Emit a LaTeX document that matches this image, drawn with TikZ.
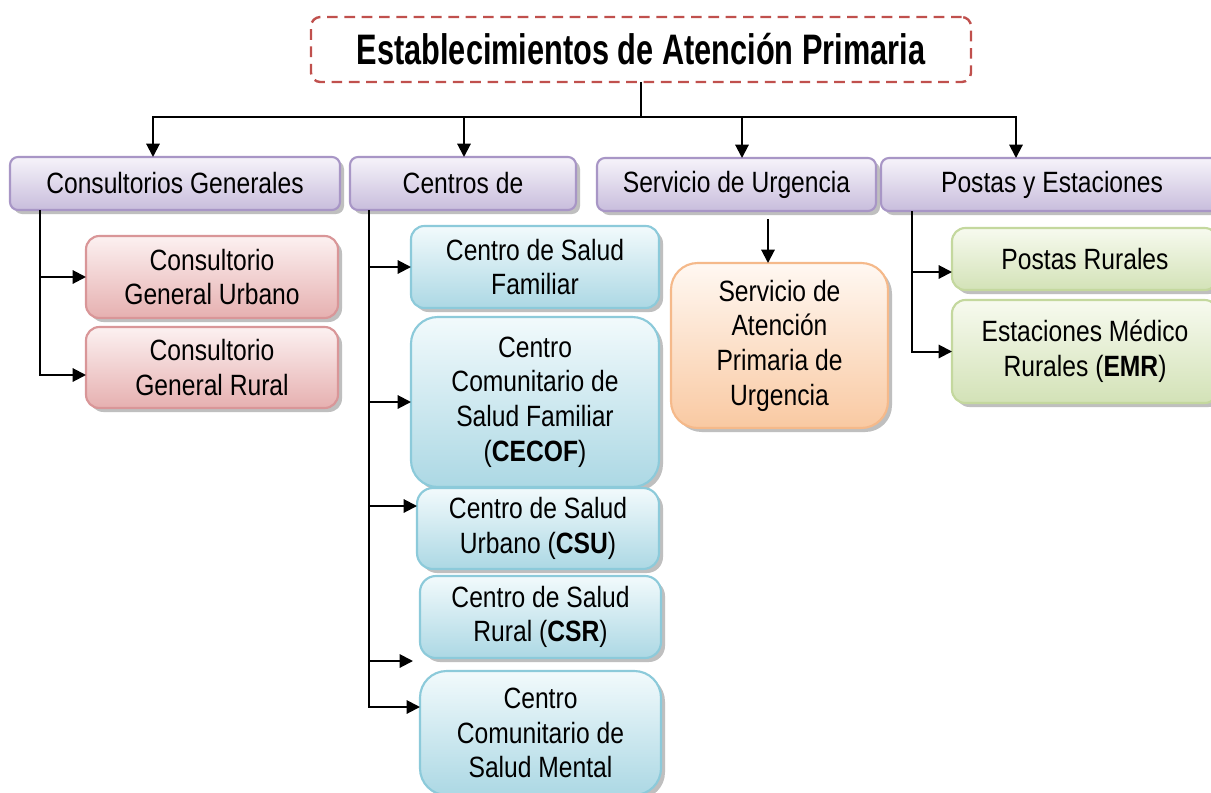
\documentclass[tikz,border=0pt]{standalone}
\usepackage{fontspec}
\setmainfont[FakeStretch=0.84]{Liberation Sans}
\newfontfamily\titlefont[FakeStretch=0.72]{Liberation Sans}
\usetikzlibrary{shadows,arrows.meta}
\definecolor{purpB}{RGB}{168,150,198}
\definecolor{purpT}{RGB}{246,243,250}
\definecolor{purpF}{RGB}{200,189,220}
\definecolor{redB}{RGB}{217,150,152}
\definecolor{redT}{RGB}{252,241,241}
\definecolor{redF}{RGB}{230,176,176}
\definecolor{bluB}{RGB}{140,202,218}
\definecolor{bluT}{RGB}{242,250,252}
\definecolor{bluF}{RGB}{172,216,228}
\definecolor{oraB}{RGB}{245,185,138}
\definecolor{oraT}{RGB}{255,248,242}
\definecolor{oraF}{RGB}{249,201,162}
\definecolor{greB}{RGB}{196,216,158}
\definecolor{greT}{RGB}{247,250,239}
\definecolor{greF}{RGB}{211,226,183}
\definecolor{titleB}{RGB}{192,80,77}
\newcommand{\bx}[8]{%
  \node[#2, rounded corners=#3, minimum width={(#6-#4)*0.75pt}, minimum height={(#7-#5)*0.75pt}] (#1) at ({(#4+#6)/2},{(#5+#7)/2}) {#8};}
\begin{document}
\begin{tikzpicture}[x=0.75pt,y=-0.75pt,
  base/.style={inner sep=0pt, outer sep=0pt, align=center, line width=1.6pt,
    font=\fontsize{22}{26}\selectfont,
    drop shadow={shadow xshift=3pt, shadow yshift=-3pt, fill=black!45, opacity=0.55}},
  purp/.style={base, draw=purpB, top color=purpT, bottom color=purpF},
  redbox/.style={base, draw=redB, top color=redT, bottom color=redF},
  blubox/.style={base, draw=bluB, top color=bluT, bottom color=bluF},
  orabox/.style={base, draw=oraB, top color=oraT, bottom color=oraF},
  grebox/.style={base, draw=greB, top color=greT, bottom color=greF},
  titlebox/.style={draw=titleB, line width=1.8pt, dash pattern=on 8pt off 5pt, rounded corners=7pt, fill=white, inner sep=0pt, outer sep=0pt},
  conn/.style={line width=1.5pt, black},
  arr/.style={conn, -{Triangle[length=10pt,width=10pt]}}]
\clip (0,0) rectangle (1211,793);
\fill[white] (0,0) rectangle (1211,793);
% title
\node[titlebox, minimum width={660*0.75pt}, minimum height={65*0.75pt}] (title) at (641,49.5)
  {\raisebox{-2pt}{\titlefont\bfseries\fontsize{32}{36}\selectfont Establecimientos de Atención Primaria}};
% level 1
\bx{A}{purp}{6pt}{10}{157}{340}{210}{Consultorios Generales}
\bx{B}{purp}{6pt}{350}{157}{576}{210}{Centros de}
\bx{C}{purp}{6pt}{597}{158}{876}{211}{Servicio de Urgencia}
\bx{D}{purp}{6pt}{881}{158}{1223}{211}{Postas y Estaciones}
% consultorios
\bx{R1}{redbox}{10pt}{86}{236}{338}{318}{Consultorio\\General Urbano}
\bx{R2}{redbox}{10pt}{86}{327}{338}{408}{Consultorio\\General Rural}
% centros
\bx{B1}{blubox}{10pt}{411}{226}{659}{308}{Centro de Salud\\Familiar}
\bx{B2}{blubox}{20pt}{411}{317}{659}{487}{Centro\\Comunitario de\\Salud Familiar\\(\textbf{CECOF})}
\bx{B3}{blubox}{12pt}{417}{488}{659}{569}{Centro de Salud\\Urbano (\textbf{CSU})}
\bx{B4}{blubox}{12pt}{420}{576}{661}{658}{Centro de Salud\\Rural (\textbf{CSR})}
\bx{B5}{blubox}{20pt}{420}{671}{661}{795}{Centro\\Comunitario de\\Salud Mental}
% urgencia
\bx{O}{orabox}{20pt}{671}{263}{888}{428}{Servicio de\\Atención\\Primaria de\\Urgencia}
% postas
\bx{G1}{grebox}{10pt}{952}{228}{1218}{290}{Postas Rurales}
\bx{G2}{grebox}{10pt}{952}{300}{1218}{403}{Estaciones Médico\\Rurales (\textbf{EMR})}
% connectors
\coordinate (bus) at (641,117);
\draw[conn] (title.south) -- (bus);
\draw[arr] (bus) -| (153,0 |- A.north);
\draw[arr] (bus) -| (464,0 |- B.north);
\draw[arr] (bus) -| (742,0 |- C.north);
\draw[arr] (bus) -| (1016,0 |- D.north);
\draw[arr] (40,0 |- A.south) |- (R1.west);
\draw[arr] (40,0 |- A.south) |- (R2.west |- 0,375);
\coordinate (free) at (413,661);
\draw[arr] (369,0 |- B.south) |- (B1.west);
\draw[arr] (369,0 |- B.south) |- (B2.west);
\draw[arr] (369,0 |- B.south) |- (B3.west |- 0,506);
\draw[arr] (369,0 |- B.south) |- (free);
\draw[arr] (369,0 |- B.south) |- (B5.west |- 0,707);
\draw[arr, shorten <=6pt] (768,0 |- C.south) -- (768,0 |- O.north);
\draw[arr] (912,0 |- D.south) |- (G1.west |- 0,272);
\draw[arr] (912,0 |- D.south) |- (G2.west);
\end{tikzpicture}
\end{document}
